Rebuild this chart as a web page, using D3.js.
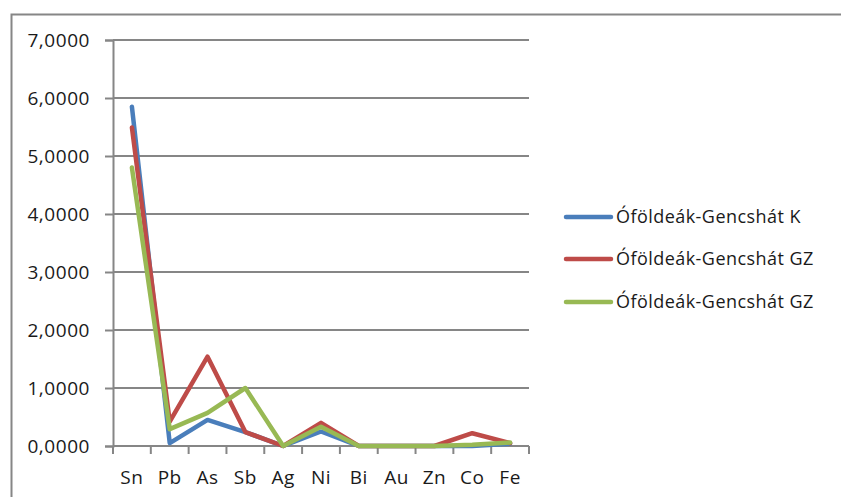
<!DOCTYPE html>
<html>
<head>
<meta charset="utf-8">
<script src="https://cdn.jsdelivr.net/npm/d3@7"></script>
<style>
  html, body { margin: 0; padding: 0; background: #fff; }
  svg { display: block; }
  text { font-family: "Open Sans", "DejaVu Sans", sans-serif; fill: #1a1a1a; }
</style>
</head>
<body>
<svg id="chart" width="841" height="497"></svg>
<script>
// Elements measured per site
const elements = ["Sn", "Pb", "As", "Sb", "Ag", "Ni", "Bi", "Au", "Zn", "Co", "Fe"];

const seriesNames = ["Óföldeák-Gencshát K", "Óföldeák-Gencshát GZ", "Óföldeák-Gencshát GZ"];
const seriesColors = ["#4a7ebb", "#be4b48", "#98b954"];

const valuesK   = [5.85, 0.05, 0.45, 0.24, 0.00, 0.25, 0.00, 0.00, 0.00, 0.00, 0.04];
const valuesGZ1 = [5.49, 0.42, 1.54, 0.24, 0.00, 0.40, 0.00, 0.00, 0.00, 0.22, 0.05];
const valuesGZ2 = [4.80, 0.29, 0.57, 1.00, 0.00, 0.33, 0.00, 0.00, 0.00, 0.02, 0.06];

const yTicks = [0, 1, 2, 3, 4, 5, 6, 7];

const allSeries = [valuesK, valuesGZ1, valuesGZ2];

const svg = d3.select("#chart");
const plot = { left: 113, right: 529, top: 40, bottom: 446 };
const fontSize = 19;
const spacing = 0.55;

// outer frame of the chart area
svg.append("path")
  .attr("d", "M11.5,497 V14.5 H841")
  .attr("fill", "none")
  .attr("stroke", "#868686")
  .attr("stroke-width", 2);

const x = d3.scaleBand().domain(elements).range([plot.left, plot.right]).padding(0);
const y = d3.scaleLinear().domain([0, 7]).range([plot.bottom, plot.top]);

const fmt = v => d3.format(".4f")(v).replace(".", ",");

// horizontal gridlines
svg.append("g")
  .selectAll("line")
  .data(yTicks.filter(t => t > 0))
  .join("line")
  .attr("x1", plot.left).attr("x2", plot.right)
  .attr("y1", d => y(d)).attr("y2", d => y(d))
  .attr("stroke", "#868686").attr("stroke-width", 2);

// y axis
const yAxis = svg.append("g")
  .attr("transform", `translate(${plot.left},0)`)
  .call(d3.axisLeft(y).tickValues(yTicks).tickFormat(fmt).tickSize(8).tickPadding(15));
yAxis.select(".domain").attr("stroke", "#868686").attr("stroke-width", 2);
yAxis.selectAll(".tick line").attr("stroke", "#868686").attr("stroke-width", 2);
yAxis.selectAll(".tick text")
  .attr("font-size", fontSize)
  .attr("letter-spacing", spacing)
  .attr("font-family", "Open Sans")
  .attr("fill", "#1a1a1a");

// x axis: ticks at category boundaries
const xg = svg.append("g").attr("transform", `translate(0,${plot.bottom})`);
xg.append("line")
  .attr("x1", plot.left).attr("x2", plot.right)
  .attr("stroke", "#868686").attr("stroke-width", 2);
const bounds = elements.map(e => x(e)).concat([x(elements[elements.length - 1]) + x.bandwidth()]);
xg.selectAll("line.tk")
  .data(bounds)
  .join("line")
  .attr("class", "tk")
  .attr("x1", d => d).attr("x2", d => d)
  .attr("y1", 0).attr("y2", 8)
  .attr("stroke", "#868686").attr("stroke-width", 2);
xg.selectAll("text")
  .data(elements)
  .join("text")
  .attr("x", d => x(d) + x.bandwidth() / 2)
  .attr("y", 38)
  .attr("text-anchor", "middle")
  .attr("font-size", fontSize)
  .attr("letter-spacing", spacing)
  .text(d => d);

// series lines
const line = d3.line()
  .x((d, i) => x(elements[i]) + x.bandwidth() / 2)
  .y(d => y(d));

svg.append("g")
  .selectAll("path")
  .data(allSeries)
  .join("path")
  .attr("d", d => line(d))
  .attr("fill", "none")
  .attr("stroke", (d, i) => seriesColors[i])
  .attr("stroke-width", 4.5)
  .attr("stroke-linejoin", "round")
  .attr("stroke-linecap", "round");

// legend
const legend = svg.append("g");
const legendY = [217, 259, 302];
seriesNames.forEach((name, i) => {
  legend.append("line")
    .attr("x1", 566).attr("x2", 611)
    .attr("y1", legendY[i]).attr("y2", legendY[i])
    .attr("stroke", seriesColors[i])
    .attr("stroke-width", 4.5)
    .attr("stroke-linecap", "round");
  legend.append("text")
    .attr("x", 616)
    .attr("y", legendY[i])
    .attr("dy", "0.35em")
    .attr("font-size", 18)
    .attr("letter-spacing", 0.45)
    .text(name);
});
</script>
</body>
</html>
